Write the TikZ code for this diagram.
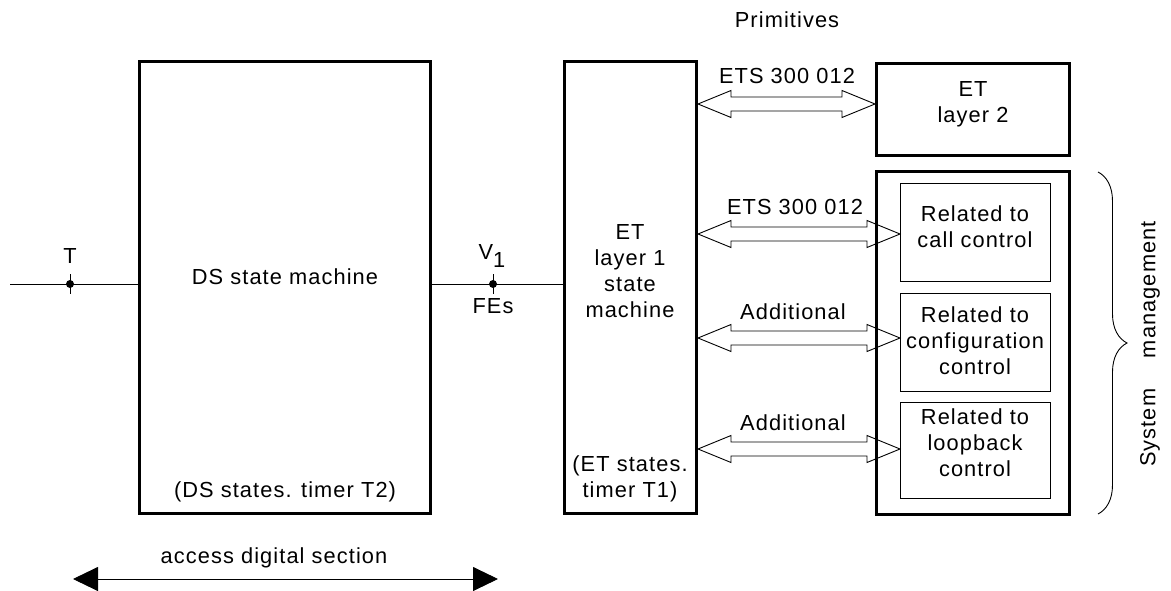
\documentclass[tikz,border=0pt]{standalone}
\usepackage{fontspec}
\setmainfont{Liberation Sans}[LetterSpace=5]
\usetikzlibrary{arrows.meta,decorations.pathreplacing,calc,fit}

% outlined two-headed arrow between two named points (same height)
\newcommand\widearrow[2]{%
  \draw[thinline] let \p1=(#1), \p2=(#2) in
    (\x1,\y1) -- (\x1+33pt,\y1+13.5pt) -- (\x1+33pt,\y1+7pt)
    -- (\x2-33pt,\y1+7pt) -- (\x2-33pt,\y1+13.5pt) -- (\x2,\y1)
    -- (\x2-33pt,\y1-13.5pt) -- (\x2-33pt,\y1-7pt)
    -- (\x1+33pt,\y1-7pt) -- (\x1+33pt,\y1-13.5pt) -- cycle;}

\begin{document}
\begin{tikzpicture}[x=1pt,y=-1pt,
  font=\fontsize{21.8}{25.8}\selectfont,
  heavy/.style={draw, line width=3pt, inner sep=0pt},
  light/.style={draw, line width=1pt, inner sep=0pt},
  thinline/.style={line width=0.9pt},
  txt/.style={align=center, inner sep=0pt},
  dot/.style={circle, fill, inner sep=0pt, minimum size=8pt},
]
\useasboundingbox (0,0) rectangle (1171,591);

% corner points of the boxes
\coordinate (dsA) at (139.5,61.5);  \coordinate (dsB) at (430.5,513.5);
\coordinate (e1A) at (564.5,61.5);  \coordinate (e1B) at (696.5,513.5);
\coordinate (e2A) at (876.5,63.5);  \coordinate (e2B) at (1069.5,155.5);
\coordinate (smA) at (876.5,171.5); \coordinate (smB) at (1069.5,514.5);
\coordinate (r1A) at (900.5,183.5); \coordinate (r1B) at (1050.5,281.5);
\coordinate (r2A) at (900.5,293.5); \coordinate (r2B) at (1050.5,391.5);
\coordinate (r3A) at (900.5,402.5); \coordinate (r3B) at (1050.5,498.5);

% main blocks
\node[heavy, fit=(dsA)(dsB)] (ds) {};
\node[heavy, fit=(e1A)(e1B)] (et1) {};
\node[heavy, fit=(e2A)(e2B)] (et2) {};
\node[heavy, fit=(smA)(smB)] (sm) {};
\node[light, fit=(r1A)(r1B)] (r1) {};
\node[light, fit=(r2A)(r2B)] (r2) {};
\node[light, fit=(r3A)(r3B)] (r3) {};

% block texts
\node[txt] (dstitle) at (285,277) {DS state machine};
\node[txt] (dsfoot) at (285,492) {(DS states. timer T2)};
\node[txt] (et1title) at (630,271) {ET\\layer 1\\state\\machine};
\node[txt] (et1foot) at (630,479) {(ET states.\\timer T1)};
\node[txt] (et2title) at (973,104) {ET\\layer 2};
\node[txt] (r1t) at (975,227) {Related to\\call control};
\node[txt] (r2t) at (975,341) {Related to\\configuration\\control};
\node[txt] (r3t) at (975,443) {Related to\\loopback\\control};

% reference points T and V1 on the line
\coordinate (lineL) at (10,284);
\node[dot] (tdot) at (70,284) {};
\node[dot] (vdot) at (493,284) {};
\draw[thinline] (lineL) -- (ds.west |- lineL);
\draw[thinline] (ds.east |- vdot) -- (et1.west |- vdot);
\draw[thinline] ([yshift=10pt]tdot.center) -- ([yshift=-10pt]tdot.center);
\draw[thinline] ([yshift=10pt]vdot.center) -- ([yshift=-10pt]vdot.center);
\node[txt] (tlab) at (70,256) {T};
\node[txt] (vlab) at (492,256) {V\raisebox{-8pt}{1}};
\node[txt] (feslab) at (493,306) {FEs};

% primitive interfaces
\coordinate (y1) at (0,104);
\coordinate (y2) at (0,234);
\coordinate (y3) at (0,338);
\coordinate (y4) at (0,449);
\widearrow{et1.east |- y1}{et2.west |- y1}
\widearrow{et1.east |- y2}{r1.west |- y2}
\widearrow{et1.east |- y3}{r2.west |- y3}
\widearrow{et1.east |- y4}{r3.west |- y4}
\node[txt] (prim) at (787,20) {Primitives};
\node[txt] (a1lab) at (787,76) {ETS 300 012};
\node[txt] (a2lab) at (795,207) {ETS 300 012};
\node[txt] (a3lab) at (793,312) {Additional};
\node[txt] (a4lab) at (793,423) {Additional};

% system management brace
\coordinate (bt) at (1098,172);
\coordinate (bb) at (1098,514);
\draw[thinline, decorate, decoration={brace, amplitude=29pt}] (bt) -- (bb);
\node[txt, rotate=90] (sysm) at (1150,344) {System\hspace{1.4em}management};

% extent of the access digital section
\coordinate (al) at (73,579);
\coordinate (ar) at (498,579);
\draw[thinline, {Triangle[length=25pt,width=24pt]}-{Triangle[length=25pt,width=24pt]}] (al) -- (ar);
\node[txt] (adslab) at (274,558) {access digital section};
\end{tikzpicture}
\end{document}
